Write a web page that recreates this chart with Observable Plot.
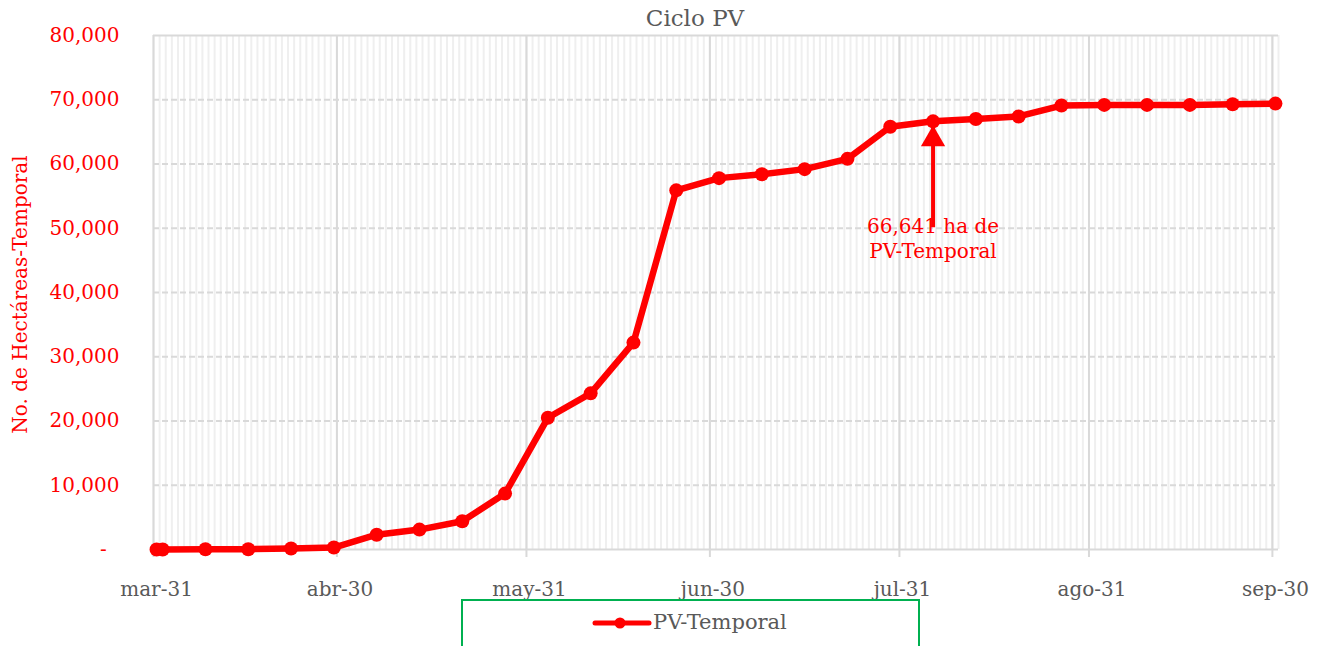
<!DOCTYPE html>
<html><head><meta charset="utf-8">
<script src="https://cdn.jsdelivr.net/npm/d3@7"></script>
<script src="https://cdn.jsdelivr.net/npm/@observablehq/plot@0.6"></script>
<style>
body{margin:0;background:#fff;}
#wrap{position:relative;width:1324px;height:646px;overflow:hidden;font-family:"DejaVu Serif",serif;}
#title{position:absolute;left:595px;width:200px;top:3px;text-align:center;font-size:23px;color:#595959;line-height:30px;}
#legend{position:absolute;left:461px;top:599px;width:459px;height:70px;border:2px solid #00b050;box-sizing:border-box;}
#legend svg{position:absolute;left:129px;top:12px;}
#legend span{position:absolute;left:190px;top:7px;font-size:21px;color:#595959;line-height:28px;white-space:nowrap;}
</style></head>
<body>
<div id="wrap">
  <div id="chart"></div>
  <div id="title">Ciclo PV</div>
  <div id="legend"><svg width="60" height="20"><line x1="3" y1="10" x2="57" y2="10" stroke="red" stroke-width="5" stroke-linecap="round"/><circle cx="28" cy="10" r="5.5" fill="red"/></svg><span>PV-Temporal</span></div>
</div>
<script>
// Data
const dates = ["2023-03-31","2023-04-01","2023-04-08","2023-04-15","2023-04-22","2023-04-29",
  "2023-05-06","2023-05-13","2023-05-20","2023-05-27","2023-06-03","2023-06-10","2023-06-17","2023-06-24",
  "2023-07-01","2023-07-08","2023-07-15","2023-07-22","2023-07-29","2023-08-05","2023-08-12","2023-08-19",
  "2023-08-26","2023-09-02","2023-09-09","2023-09-16","2023-09-23","2023-09-30"];
const hectareas = [0,0,50,50,150,300,2300,3100,4400,8700,20500,24300,32200,55900,
  57800,58400,59200,60800,65800,66641,67000,67400,69100,69200,69200,69200,69300,69400];
const tickDates = ["2023-03-31","2023-04-30","2023-05-31","2023-06-30","2023-07-31","2023-08-31","2023-09-30"];
const tickLabels = ["mar-31","abr-30","may-31","jun-30","jul-31","ago-31","sep-30"];
const yTicks = [0,10000,20000,30000,40000,50000,60000,70000,80000];
const annotation = [{date:"2023-08-05", value:66641, labelValue:53500, text:"66,641 ha de\nPV-Temporal"}];
const yLabel = "No. de Hectáreas-Temporal";
const xStart = "2023-03-31", xEnd = "2023-10-01";

const parse = s => new Date(s + "T00:00:00Z");
const noon = s => d3.utcHour.offset(parse(s), 12);
const data = dates.map((d,i) => ({date: noon(d), value: hectareas[i]}));
const ticks = tickDates.map(parse);
const days = d3.utcDay.range(parse(xStart), d3.utcDay.offset(parse(xEnd), 1));
const fmt = d3.format(",");

const chart = Plot.plot({
  width: 1324, height: 646,
  marginTop: 35, marginBottom: 97, marginLeft: 153, marginRight: 46,
  style: {fontFamily: "DejaVu Serif", fontSize: "20px", background: "transparent", overflow: "visible"},
  x: {type: "utc", domain: [parse(xStart), parse(xEnd)]},
  y: {domain: [0, 80000]},
  marks: [
    Plot.ruleX(days, {stroke: "#efefef", strokeWidth: 2}),
    Plot.ruleY(yTicks.filter(v => v > 0 && v < 80000), {stroke: "#d9d9d9", strokeWidth: 2, strokeDasharray: "6,3"}),
    Plot.ruleY([0, 80000], {stroke: "#d9d9d9", strokeWidth: 2}),
    Plot.ruleX(ticks, {stroke: "#d9d9d9", strokeWidth: 2}),
    Plot.axisX(ticks, {tickSize: 8, stroke: "#d9d9d9", strokeWidth: 2, tickFormat: () => "", label: null}),
    Plot.text(tickDates, {x: d => noon(d), text: (d,i) => tickLabels[i], frameAnchor: "bottom", lineAnchor: "top", dy: 32, fill: "#595959"}),
    Plot.axisY(yTicks, {tickSize: 0, tickPadding: 34, fill: "red", label: null,
      tickFormat: d => d === 0 ? "-\u2007" : fmt(d)}),
    Plot.text([yLabel], {frameAnchor: "left", dx: -133, dy: 2, rotate: -90, textAnchor: "middle", fill: "red", text: d => d}),
    Plot.line(data, {x: "date", y: "value", stroke: "red", strokeWidth: 6.5, strokeLinejoin: "round"}),
    Plot.dot(data, {x: "date", y: "value", r: 7, fill: "red"}),
    Plot.ruleX(annotation, {x: d => noon(d.date), y1: "labelValue", y2: "value", insetTop: 22, stroke: "red", strokeWidth: 4}),
    Plot.dot(annotation, {x: d => noon(d.date), y: "value", symbol: "triangle", r: 9, fill: "red", dy: 18}),
    Plot.text(annotation, {x: d => noon(d.date), y: "labelValue", text: "text", lineAnchor: "top", dy: 9, lineHeight: 1.25, fill: "red"})
  ]
});
document.getElementById("chart").appendChild(chart);
</script>
</body></html>
